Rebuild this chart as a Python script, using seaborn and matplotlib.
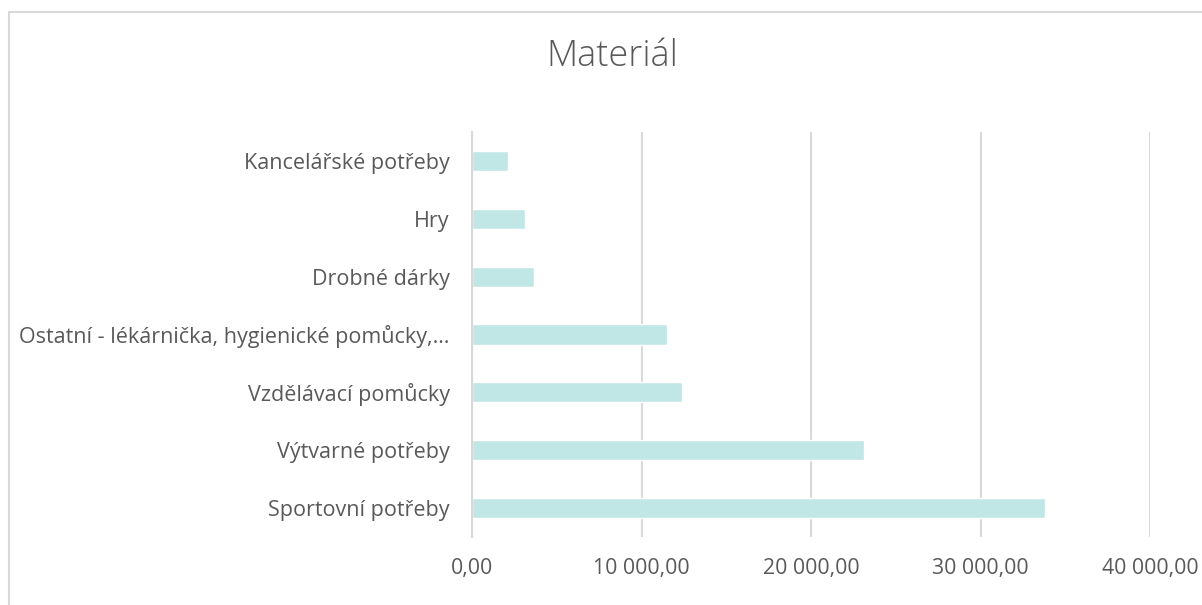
import matplotlib
matplotlib.use("Agg")
import matplotlib.pyplot as plt
import matplotlib.ticker as mticker
import seaborn as sns
import pandas as pd
from matplotlib.patches import Rectangle

categories = [
    "Kancelářské potřeby",
    "Hry",
    "Drobné dárky",
    "Ostatní - lékárnička, hygienické pomůcky,…",
    "Vzdělávací pomůcky",
    "Výtvarné potřeby",
    "Sportovní potřeby",
]
values = [2140, 3105, 3670, 11530, 12400, 23130, 33820]
xticks = [0, 10000, 20000, 30000, 40000]

df = pd.DataFrame({"cat": categories, "val": values})

sns.set_theme(style="white")
plt.rcParams["font.family"] = ["Open Sans", "DejaVu Sans"]

fig = plt.figure(figsize=(12.02, 6.05), dpi=100)
ax = fig.add_axes([472/1202, 1-537/605, (1150-472)/1202, (537-132)/605])

sns.barplot(data=df, y="cat", x="val", ax=ax, color="#C0E7E5", width=0.35,
            saturation=1, orient="h")

ax.set_xlim(0, 40000)
ax.set_xticks(xticks)
def fmt(v, p):
    return f"{v:,.2f}".replace(",", " ").replace(".", ",")
ax.xaxis.set_major_formatter(mticker.FuncFormatter(fmt))
ax.grid(axis="x", color="#D9D9D9", linewidth=1.5)
ax.set_axisbelow(True)
for s in ["top", "right", "bottom"]:
    ax.spines[s].set_visible(False)
ax.spines["left"].set_color("#D9D9D9")
ax.spines["left"].set_linewidth(1.5)
ax.set_xlabel("")
ax.set_ylabel("")
ax.tick_params(axis="both", length=0, labelcolor="#595959")
ax.tick_params(axis="y", pad=16, labelsize=15.5)
ax.tick_params(axis="x", pad=15, labelsize=15.3)

fig.text(0.509, 1-56/605, "Materiál", ha="center", va="center", fontsize=26,
         color="#595959", fontweight="light")

fig.patches.append(Rectangle((9/1202, -0.05), 1.2, 1-12/605+0.05, transform=fig.transFigure,
                             fill=False, edgecolor="#D9D9D9", linewidth=1.5))

fig.savefig("out.png", dpi=100)
